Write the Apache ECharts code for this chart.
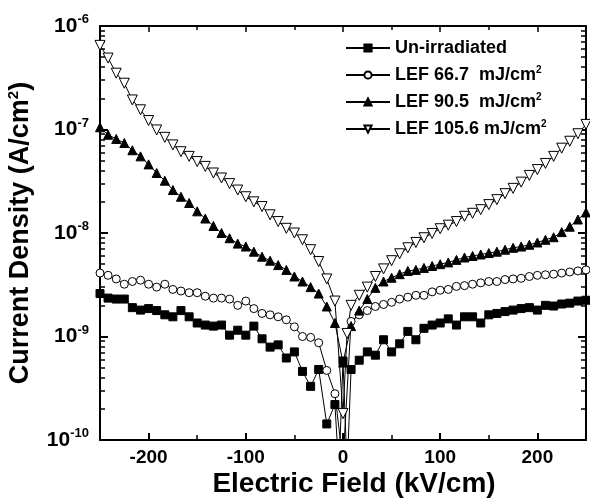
<!DOCTYPE html>
<html>
<head>
<meta charset="utf-8">
<script src="https://cdn.jsdelivr.net/npm/echarts@6/dist/echarts.min.js"></script>
<style>
  html, body { margin: 0; padding: 0; background: #fff; }
  #chart { width: 590px; height: 498px; }
</style>
</head>
<body>
<div id="chart"></div>
<script>
var fieldX = [-250, -241.7, -233.3, -225, -216.7, -208.3, -200, -191.7, -183.3, -175,
  -166.7, -158.3, -150, -141.7, -133.3, -125, -116.7, -108.3, -100, -91.7,
  -83.3, -75, -66.7, -58.3, -50, -41.7, -33.3, -25, -16.7, -8.3,
  -4.2, 0, 4.2,
  8.3, 16.7, 25, 33.3, 41.7, 50, 58.3, 66.7, 75, 83.3,
  91.7, 100, 108.3, 116.7, 125, 133.3, 141.7, 150, 158.3, 166.7,
  175, 183.3, 191.7, 200, 208.3, 216.7, 225, 233.3, 241.7, 250];

var seriesNames = ['Un-irradiated', 'LEF 66.7  mJ/cm²', 'LEF 90.5  mJ/cm²', 'LEF 105.6 mJ/cm²'];

var unIrradiated = [2.6e-9, 2.35e-9, 2.3e-9, 2.3e-9, 1.9e-9, 1.8e-9, 1.86e-9, 1.78e-9, 1.62e-9, 1.55e-9,
  1.78e-9, 1.55e-9, 1.35e-9, 1.29e-9, 1.26e-9, 1.29e-9, 1.03e-9, 1.15e-9, 1.03e-9, 1.26e-9,
  9.5e-10, 7.9e-10, 8.3e-10, 6.2e-10, 7.1e-10, 4.6e-10, 3.3e-10, 4.8e-10, 1.43e-10, 2.2e-10,
  5e-11, 5.8e-10, 5e-11,
  4.8e-10, 5.9e-10, 7.1e-10, 6.6e-10, 9.3e-10, 7.1e-10, 8.5e-10, 1.12e-9, 9.3e-10, 1.2e-9,
  1.29e-9, 1.35e-9, 1.48e-9, 1.29e-9, 1.55e-9, 1.55e-9, 1.35e-9, 1.62e-9, 1.67e-9, 1.74e-9,
  1.8e-9, 1.86e-9, 1.9e-9, 1.8e-9, 2.0e-9, 1.97e-9, 2.06e-9, 2.1e-9, 2.2e-9, 2.24e-9];

var lef667 = [4.1e-9, 3.9e-9, 3.6e-9, 3.2e-9, 3.4e-9, 3.5e-9, 3.2e-9, 3.0e-9, 3.2e-9, 2.85e-9,
  2.75e-9, 2.65e-9, 2.65e-9, 2.45e-9, 2.35e-9, 2.35e-9, 2.3e-9, 2.0e-9, 2.2e-9, 1.86e-9,
  1.67e-9, 1.62e-9, 1.55e-9, 1.45e-9, 1.24e-9, 1.0e-9, 9.8e-10, 8.7e-10, 4.7e-10, 2.8e-10,
  null, 6e-11, null,
  1.4e-9, 1.62e-9, 1.78e-9, 1.95e-9, 2.04e-9, 2.14e-9, 2.3e-9, 2.4e-9, 2.5e-9, 2.5e-9,
  2.7e-9, 2.8e-9, 2.85e-9, 3.05e-9, 3.1e-9, 3.2e-9, 3.3e-9, 3.4e-9, 3.4e-9, 3.55e-9,
  3.6e-9, 3.65e-9, 3.8e-9, 3.9e-9, 3.95e-9, 4.0e-9, 4.1e-9, 4.2e-9, 4.3e-9, 4.4e-9];

var lef905 = [1.05e-7, 8.9e-8, 8.1e-8, 7.4e-8, 6.3e-8, 5.5e-8, 4.6e-8, 3.8e-8, 3.2e-8, 2.6e-8,
  2.24e-8, 1.95e-8, 1.62e-8, 1.38e-8, 1.17e-8, 1.0e-8, 8.9e-9, 7.9e-9, 7.4e-9, 6.6e-9,
  5.9e-9, 5.4e-9, 4.9e-9, 4.4e-9, 3.8e-9, 3.4e-9, 3.0e-9, 2.6e-9, 1.95e-9, 1.35e-9,
  null, 5.6e-10, null,
  1.26e-9, 1.78e-9, 2.3e-9, 2.95e-9, 3.4e-9, 3.7e-9, 4.0e-9, 4.3e-9, 4.4e-9, 4.6e-9,
  4.8e-9, 5.0e-9, 5.2e-9, 5.5e-9, 5.8e-9, 6.0e-9, 6.2e-9, 6.4e-9, 6.6e-9, 6.9e-9,
  7.2e-9, 7.4e-9, 7.7e-9, 8.1e-9, 8.6e-9, 9.1e-9, 1.02e-8, 1.15e-8, 1.35e-8, 1.58e-8];

var lef1056 = [6.5e-7, 4.9e-7, 3.5e-7, 2.8e-7, 1.93e-7, 1.55e-7, 1.22e-7, 9.9e-8, 8.4e-8, 7.1e-8,
  6.1e-8, 5.5e-8, 4.9e-8, 4.4e-8, 3.8e-8, 3.4e-8, 3.0e-8, 2.6e-8, 2.24e-8, 2.0e-8,
  1.8e-8, 1.5e-8, 1.29e-8, 1.11e-8, 1.0e-8, 8.6e-9, 6.9e-9, 5.3e-9, 3.6e-9, 2.2e-9,
  null, 1.8e-10, 1.07e-9,
  2.0e-9, 2.5e-9, 3.0e-9, 3.8e-9, 4.5e-9, 5.4e-9, 6.3e-9, 7.2e-9, 8.1e-9, 9.0e-9,
  9.9e-9, 1.1e-8, 1.19e-8, 1.29e-8, 1.45e-8, 1.55e-8, 1.68e-8, 1.88e-8, 2.1e-8, 2.4e-8,
  2.7e-8, 3.1e-8, 3.6e-8, 4.1e-8, 4.7e-8, 5.5e-8, 6.6e-8, 7.7e-8, 9.1e-8, 1.12e-7];

var xMajorTicks = [-200, -100, 0, 100, 200];
var xMinorTicks = [-150, -50, 50, 150];
var yMinorMantissa = [2, 3, 4, 5, 6, 7, 8, 9];
var yDecades = [-10, -9, -8, -7];

var FONT = 'Liberation Sans';

function pairs(ys) {
  var out = [];
  for (var i = 0; i < fieldX.length; i++) {
    if (ys[i] != null) out.push([fieldX[i], ys[i]]);
  }
  return out;
}

// minor ticks of the log axis, drawn on a log10 value axis
var yMinorLog = [];
yDecades.forEach(function (d) {
  yMinorMantissa.forEach(function (m) { yMinorLog.push(d + Math.log10(m)); });
});

var chart = echarts.init(document.getElementById('chart'), null, { renderer: 'canvas' });

var axisLineStyle = { color: '#000', width: 2 };

function tickAxisX(pos, ticks, len) {
  return {
    type: 'value', min: -250, max: 250, position: pos,
    axisLine: { show: false, onZero: false },
    axisTick: { show: true, inside: true, length: len, customValues: ticks, lineStyle: { color: '#000', width: 1.5 } },
    axisLabel: { show: false },
    splitLine: { show: false }
  };
}
function tickAxisY(pos) {
  return {
    type: 'value', min: -10, max: -6, position: pos,
    axisLine: { show: false, onZero: false },
    axisTick: { show: true, inside: true, length: 5, customValues: yMinorLog, lineStyle: { color: '#000', width: 1.5 } },
    axisLabel: { show: false },
    splitLine: { show: false }
  };
}

var option = {
  backgroundColor: '#fff',
  animation: false,
  textStyle: { fontFamily: FONT },
  grid: { left: 100, right: 4, top: 26, bottom: 58, containLabel: false, outerBoundsMode: 'none' },
  legend: {
    orient: 'vertical',
    left: 340,
    top: 34,
    itemWidth: 44,
    itemHeight: 9,
    itemGap: 8,
    data: seriesNames,
    formatter: function (name) {
      if (name.indexOf('²') >= 0) return '{t|' + name.replace('²', '') + '}{s|2}';
      return '{t|' + name + '}';
    },
    textStyle: {
      rich: {
        t: { fontFamily: FONT, fontWeight: 'bold', fontSize: 18, color: '#000' },
        s: { fontFamily: FONT, fontWeight: 'bold', fontSize: 10, color: '#000', verticalAlign: 'top', padding: [0, 0, 10, 0] }
      }
    }
  },
  xAxis: [
    {
      type: 'value', min: -250, max: 250, position: 'bottom',
      axisLine: { onZero: false, lineStyle: axisLineStyle },
      axisTick: { inside: true, length: 7, customValues: xMajorTicks, lineStyle: { color: '#000', width: 2 } },
      axisLabel: { customValues: xMajorTicks, fontFamily: FONT, fontWeight: 'bold', fontSize: 19, color: '#000', margin: 8 },
      splitLine: { show: false },
      name: 'Electric Field (kV/cm)',
      nameLocation: 'middle',
      nameGap: 30,
      nameMoveOverlap: false,
      nameTextStyle: { fontFamily: FONT, fontWeight: 'bold', fontSize: 28, color: '#000', verticalAlign: 'top', padding: [0, 0, 0, 22] }
    },
    tickAxisX('bottom', xMinorTicks, 5),
    {
      type: 'value', min: -250, max: 250, position: 'top',
      axisLine: { onZero: false, lineStyle: axisLineStyle },
      axisTick: { inside: true, length: 6, customValues: xMajorTicks, lineStyle: { color: '#000', width: 1.5 } },
      axisLabel: { show: false },
      splitLine: { show: false }
    },
    tickAxisX('top', xMinorTicks, 4)
  ],
  yAxis: [
    {
      type: 'log', logBase: 10, min: 1e-10, max: 1e-6, position: 'left',
      axisLine: { onZero: false, lineStyle: axisLineStyle },
      axisTick: { inside: true, length: 8, lineStyle: { color: '#000', width: 2 } },
      axisLabel: {
        margin: 11,
        formatter: function (v) {
          var e = Math.round(Math.log10(v));
          return '{b|10}{s|' + e + '}';
        },
        rich: {
          b: { fontFamily: FONT, fontWeight: 'bold', fontSize: 21, color: '#000' },
          s: { fontFamily: FONT, fontWeight: 'bold', fontSize: 13, color: '#000', verticalAlign: 'top', padding: [0, 0, 13, 0] }
        }
      },
      splitLine: { show: false },
      name: '{t|Current Density (A/cm}{s|2}{t|)}',
      nameLocation: 'middle',
      nameGap: 64,
      nameMoveOverlap: false,
      nameTextStyle: {
        rich: {
          t: { fontFamily: FONT, fontWeight: 'bold', fontSize: 27, color: '#000' },
          s: { fontFamily: FONT, fontWeight: 'bold', fontSize: 15, color: '#000', verticalAlign: 'top', padding: [0, 0, 15, 0] }
        }
      }
    },
    tickAxisY('left'),
    {
      type: 'log', logBase: 10, min: 1e-10, max: 1e-6, position: 'right',
      axisLine: { onZero: false, lineStyle: axisLineStyle },
      axisTick: { inside: true, length: 8, lineStyle: { color: '#000', width: 2 } },
      axisLabel: { show: false },
      splitLine: { show: false }
    },
    tickAxisY('right')
  ],
  series: [
    {
      name: seriesNames[0], type: 'line', data: pairs(unIrradiated),
      symbol: 'rect', symbolSize: 8, showAllSymbol: true,
      lineStyle: { color: '#000', width: 1 },
      itemStyle: { color: '#000', borderColor: '#000', borderWidth: 1 }
    },
    {
      name: seriesNames[1], type: 'line', data: pairs(lef667),
      symbol: 'circle', symbolSize: 8, showAllSymbol: true,
      lineStyle: { color: '#000', width: 1 },
      itemStyle: { color: '#fff', borderColor: '#000', borderWidth: 1 }
    },
    {
      name: seriesNames[2], type: 'line', data: pairs(lef905),
      symbol: 'triangle', symbolSize: 9, showAllSymbol: true,
      lineStyle: { color: '#000', width: 1 },
      itemStyle: { color: '#000', borderColor: '#000', borderWidth: 1 }
    },
    {
      name: seriesNames[3], type: 'line', data: pairs(lef1056),
      symbol: 'triangle', symbolRotate: 180, symbolSize: 10, showAllSymbol: true,
      lineStyle: { color: '#000', width: 1 },
      itemStyle: { color: '#fff', borderColor: '#000', borderWidth: 1 }
    }
  ]
};

chart.setOption(option);
window.addEventListener('resize', function () {
  chart.resize();
});
</script>
</body>
</html>
